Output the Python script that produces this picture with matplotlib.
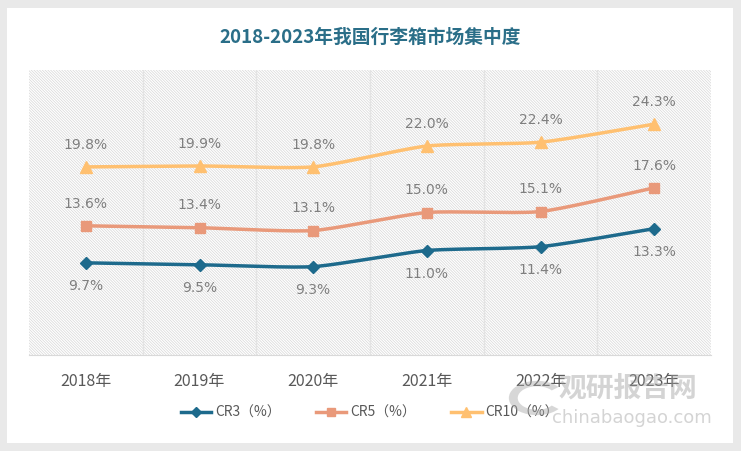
import numpy as np
import matplotlib
matplotlib.use("Agg")
import matplotlib.pyplot as plt
from matplotlib.patches import Rectangle, Wedge

plt.rcParams['font.family'] = ['Noto Sans CJK SC', 'DejaVu Sans']
plt.rcParams['hatch.linewidth'] = 0.5

#
# Donnees
years	= ["2018年", "2019年", "2020年", "2021年", "2022年", "2023年"]
cr3		= [9.7, 9.5, 9.3, 11.0, 11.4, 13.3]
cr5		= [13.6, 13.4, 13.1, 15.0, 15.1, 17.6]
cr10	= [19.8, 19.9, 19.8, 22.0, 22.4, 24.3]

def smooth(y, n=30):
	# courbe lissee (catmull-rom) passant par les points
	x = np.arange(len(y), dtype=float)
	y = np.asarray(y, dtype=float)
	px = np.concatenate([[x[0]], x, [x[-1]]])
	py = np.concatenate([[y[0]], y, [y[-1]]])
	xs, ys = [], []
	for i in range(1, len(px) - 2):
		t = np.linspace(0, 1, n)
		for arr, out in ((px, xs), (py, ys)):
			p0, p1, p2, p3 = arr[i - 1], arr[i], arr[i + 1], arr[i + 2]
			m1 = (p2 - p0) / 2 * 0.6
			m2 = (p3 - p1) / 2 * 0.6
			h00 = 2*t**3 - 3*t**2 + 1
			h10 = t**3 - 2*t**2 + t
			h01 = -2*t**3 + 3*t**2
			h11 = t**3 - t**2
			out.extend(h00*p1 + h10*m1 + h01*p2 + h11*m2)
	return np.array(xs), np.array(ys)

fig = plt.figure(figsize=(7.41, 4.51), dpi=100)
fig.patch.set_facecolor("#e9e9e9")
fig.patches.append(Rectangle((7/741, 8/451), 726/741, 435/451, transform=fig.transFigure,
	facecolor="white", edgecolor="none", zorder=-5))

ax = fig.add_axes([29/741, 96/451, 682/741, 285/451])
ax.set_facecolor("white")
ax.add_patch(Rectangle((0, 0), 1, 1, transform=ax.transAxes, facecolor="none",
	edgecolor="#d6d6d6", hatch="\\" * 12, linewidth=0, zorder=0))

x = np.arange(len(years))
series = [
	("CR3（%）", cr3, "#1d6a8c", "D", 6, -1),
	("CR5（%）", cr5, "#e9997a", "s", 7, 1),
	("CR10（%）", cr10, "#ffc070", "^", 8, 1),
]
for name, vals, col, mk, ms, side in series:
	sx, sy = smooth(vals)
	ax.plot(sx, sy, color=col, linewidth=2.5, zorder=3)
	ax.plot(x, vals, linestyle="none", marker=mk, markersize=ms, color=col, zorder=4)
	ax.plot([], [], color=col, linewidth=2.5, marker=mk, markersize=ms - 1, label=name)
	for xi, v in zip(x, vals):
		ax.annotate("{:.1f}%".format(v), (xi, v), xytext=(0, 16 if side > 0 else -17),
			textcoords="offset points", ha="center", va="center", fontsize=10, color="#7f7f7f",
			family=['DejaVu Sans'])

ax.set_xlim(-0.5, len(years) - 0.5)
ax.set_ylim(0, 30)
ax.set_yticks([])
ax.set_xticks(np.arange(len(years) - 1) + 0.5, minor=False)
ax.set_xticklabels([])
ax.tick_params(axis="x", length=0)
ax.grid(axis="x", color="#e3e3e3", linewidth=1)
for s in ["top", "right", "left"]:
	ax.spines[s].set_visible(False)
ax.spines["bottom"].set_color("#d9d9d9")
for xi, lab in zip(x, years):
	ax.text(xi, -2.8, lab, ha="center", va="center", fontsize=11.5, color="#595959")

fig.text(370/741, 1 - 37/451, "2018-2023年我国行李箱市场集中度", ha="center", va="center",
	fontsize=13.5, fontweight="bold", color="#2a6e88")

fig.legend(loc="center", bbox_to_anchor=(370/741, 1 - 413/451), ncol=3, frameon=False,
	fontsize=10, labelcolor="#595959", handlelength=2.2, columnspacing=2.5, handletextpad=0.3)

# filigrane
fig.patches.append(Wedge((537/741, 1 - 398/451), 0.038, 40, 320, width=0.012,
	transform=fig.transFigure, facecolor="#a8a8a8", alpha=0.45, edgecolor="none", zorder=10))
fig.text(628/741, 1 - 389/451, "观研报告网", ha="center", va="center", fontsize=20,
	fontweight="bold", color="#a0a0a0", alpha=0.45, zorder=10)
fig.text(632/741, 1 - 418/451, "chinabaogao.com", ha="center", va="center", fontsize=13,
	color="#a0a0a0", alpha=0.45, family=['DejaVu Sans'], zorder=10)

fig.savefig("out.png", dpi=100, facecolor=fig.get_facecolor())
